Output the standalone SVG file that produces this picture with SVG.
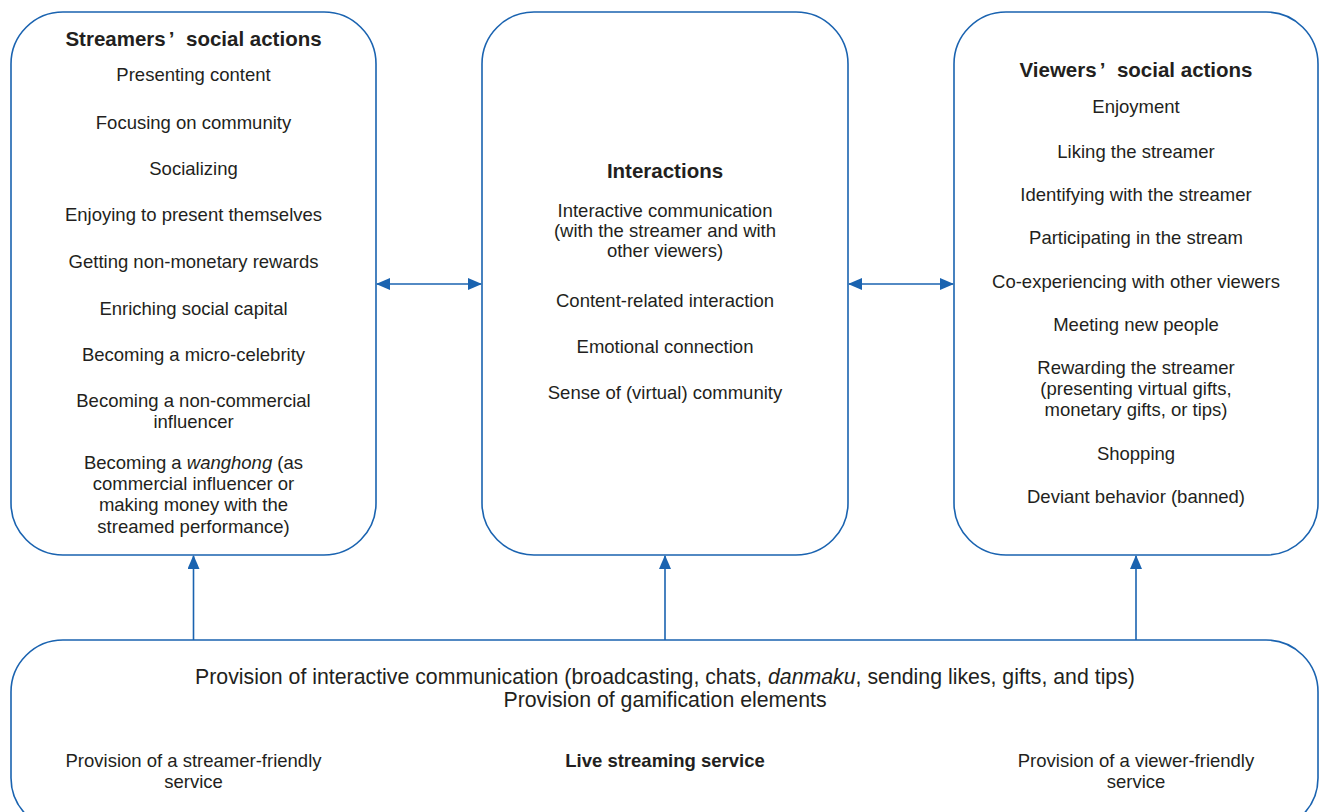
<svg xmlns="http://www.w3.org/2000/svg" width="1320" height="812" viewBox="0 0 1320 812">
<style>
.box{fill:#fff;stroke:#1a63b0;stroke-width:1.6}
.t{font-family:"Liberation Sans",Arial,sans-serif;font-size:18.5px;fill:#231f20;text-anchor:middle}
.b{font-weight:bold;font-size:20.5px}
.lb{font-weight:bold}
.big{font-size:21.3px}
.c{stroke:#1a63b0;stroke-width:1.6;fill:none}
</style>
<defs>
<marker id="ah" markerWidth="14" markerHeight="12" refX="13" refY="6" orient="auto-start-reverse" markerUnits="userSpaceOnUse">
<path d="M0,0 L14,6 L0,12 Z" fill="#1a63b0"/>
</marker>
</defs>
<g id="streamers">
<rect class="box" x="11" y="12" width="365" height="543" rx="52"/>
<text class="t b" x="193.5" y="46">Streamers<tspan dx="3">’</tspan><tspan dx="7"> social actions</tspan></text>
<text class="t" x="193.5" y="81">Presenting content</text>
<text class="t" x="193.5" y="129">Focusing on community</text>
<text class="t" x="193.5" y="175">Socializing</text>
<text class="t" x="193.5" y="221">Enjoying to present themselves</text>
<text class="t" x="193.5" y="268">Getting non-monetary rewards</text>
<text class="t" x="193.5" y="315">Enriching social capital</text>
<text class="t" x="193.5" y="361">Becoming a micro-celebrity</text>
<text class="t" x="193.5" y="407">Becoming a non-commercial</text>
<text class="t" x="193.5" y="428">influencer</text>
<text class="t" x="193.5" y="469">Becoming a <tspan font-style="italic">wanghong</tspan> (as</text>
<text class="t" x="193.5" y="490">commercial influencer or</text>
<text class="t" x="193.5" y="511">making money with the</text>
<text class="t" x="193.5" y="533">streamed performance)</text>
</g>
<g id="interactions">
<rect class="box" x="482" y="12" width="366" height="543" rx="52"/>
<text class="t b" x="665" y="178">Interactions</text>
<text class="t" x="665" y="217">Interactive communication</text>
<text class="t" x="665" y="237">(with the streamer and with</text>
<text class="t" x="665" y="257">other viewers)</text>
<text class="t" x="665" y="307">Content-related interaction</text>
<text class="t" x="665" y="353">Emotional connection</text>
<text class="t" x="665" y="399">Sense of (virtual) community</text>
</g>
<g id="viewers">
<rect class="box" x="954" y="12" width="364" height="543" rx="52"/>
<text class="t b" x="1136" y="77">Viewers<tspan dx="3">’</tspan><tspan dx="7"> social actions</tspan></text>
<text class="t" x="1136" y="113">Enjoyment</text>
<text class="t" x="1136" y="158">Liking the streamer</text>
<text class="t" x="1136" y="201">Identifying with the streamer</text>
<text class="t" x="1136" y="244">Participating in the stream</text>
<text class="t" x="1136" y="288">Co-experiencing with other viewers</text>
<text class="t" x="1136" y="331">Meeting new people</text>
<text class="t" x="1136" y="374">Rewarding the streamer</text>
<text class="t" x="1136" y="395">(presenting virtual gifts,</text>
<text class="t" x="1136" y="416">monetary gifts, or tips)</text>
<text class="t" x="1136" y="460">Shopping</text>
<text class="t" x="1136" y="503">Deviant behavior (banned)</text>
</g>
<g id="service">
<rect class="box" x="11" y="640" width="1307" height="190" rx="52"/>
<text class="t big" x="665" y="684">Provision of interactive communication (broadcasting, chats, <tspan font-style="italic">danmaku</tspan>, sending likes, gifts, and tips)</text>
<text class="t big" x="665" y="707">Provision of gamification elements</text>
<text class="t" x="193.5" y="767">Provision of a streamer-friendly</text>
<text class="t" x="193.5" y="788">service</text>
<text class="t lb" x="665" y="767">Live streaming service</text>
<text class="t" x="1136" y="767">Provision of a viewer-friendly</text>
<text class="t" x="1136" y="788">service</text>
</g>
<g id="connectors">
<line class="c" x1="377" y1="284" x2="481" y2="284" marker-start="url(#ah)" marker-end="url(#ah)"/>
<line class="c" x1="849" y1="284" x2="953" y2="284" marker-start="url(#ah)" marker-end="url(#ah)"/>
<line class="c" x1="193.5" y1="640" x2="193.5" y2="556" marker-end="url(#ah)"/>
<line class="c" x1="665" y1="640" x2="665" y2="556" marker-end="url(#ah)"/>
<line class="c" x1="1136" y1="640" x2="1136" y2="556" marker-end="url(#ah)"/>
</g>
</svg>
